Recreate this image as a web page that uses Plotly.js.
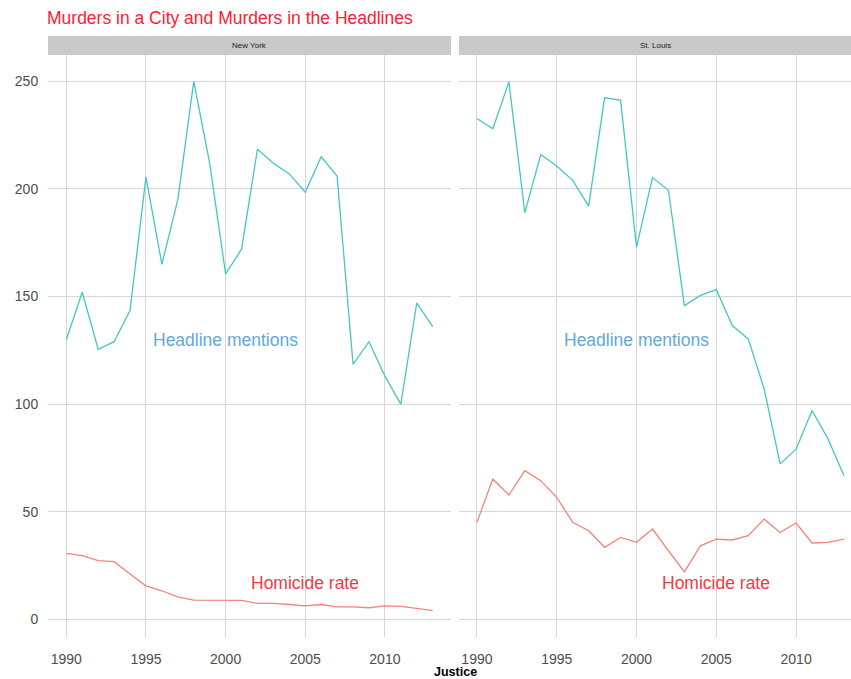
<!DOCTYPE html>
<html>
<head>
<meta charset="utf-8">
<script src="https://cdn.plot.ly/plotly-3.0.1.min.js"></script>
<style>html,body{margin:0;padding:0;background:#fff;}#chart{width:851px;height:679px;}</style>
</head>
<body>
<div id="chart"></div>
<script>
const years = [1990,1991,1992,1993,1994,1995,1996,1997,1998,1999,2000,2001,2002,2003,2004,2005,2006,2007,2008,2009,2010,2011,2012,2013];
const nyHeadlines = [130,152,125.5,129,143.5,205.5,165,195,250,212,160.5,172,218.5,212,207,198.5,215,206,118.5,129,113,100,147,136];
const nyHomicide = [30.6,29.5,27.2,26.7,21,15.5,13.2,10.4,8.8,8.8,8.5,8.7,7.3,7.3,6.8,6.2,6.8,5.7,5.7,5.3,6.2,5.9,5.0,4.0];
const slHeadlines = [232.8,228,249.8,189,216,210.7,204,192,242.4,241.3,173,205.3,199.4,145.8,150.5,153.2,136.5,130.3,107,72.2,79,97,83.8,66.7];
const slHomicide = [45,65.2,57.7,69,64.4,56.6,45,41.1,33.4,38,35.7,41.9,31.8,22,34.1,37.2,36.8,38.8,46.5,40.3,44.7,35.4,35.7,37.2];
const panels = ["New York", "St. Louis"];
const xTicks = [1990,1995,2000,2005,2010];
const yTicks = [0,50,100,150,200,250];
const labelHeadline = "Headline mentions";
const labelHomicide = "Homicide rate";
const chartTitle = "Murders in a City and Murders in the Headlines";
const xTitle = "Justice";

const W = 851, H = 679;
const px = v => v / W;
const py = v => 1 - v / H;
const teal = '#46c6c8', red = '#f4837c';
const FAM = 'Liberation Sans, Arial, sans-serif';

const traces = [
  {x: years, y: nyHeadlines, xaxis:'x', yaxis:'y', mode:'lines', line:{color:teal, width:1.3}, hoverinfo:'skip'},
  {x: years, y: nyHomicide, xaxis:'x', yaxis:'y', mode:'lines', line:{color:red, width:1.3}, hoverinfo:'skip'},
  {x: years, y: slHeadlines, xaxis:'x2', yaxis:'y2', mode:'lines', line:{color:teal, width:1.3}, hoverinfo:'skip'},
  {x: years, y: slHomicide, xaxis:'x2', yaxis:'y2', mode:'lines', line:{color:red, width:1.3}, hoverinfo:'skip'}
];

const yDom = [py(637), py(55)];
const yRange = [-8.3, 262.3];
const tickFont = {family: FAM, size:14, color:'#4d4d4d'};
const grid = '#d6d6d6';

const xBase = {
  tickvals: xTicks, ticktext: xTicks.map(String), showgrid:true, gridcolor:grid, gridwidth:1,
  zeroline:false, showline:false, ticks:'outside', ticklen:9, tickcolor:'rgba(0,0,0,0)',
  tickfont: tickFont, automargin:false, fixedrange:true
};
const yBase = {
  tickvals: yTicks, ticktext: yTicks.map(String), range: yRange, domain: yDom, showgrid:true,
  gridcolor:grid, gridwidth:1, zeroline:false, showline:false, ticks:'outside', ticklen:6,
  tickcolor:'rgba(0,0,0,0)', tickfont: tickFont, automargin:false, fixedrange:true
};

const annFont = (c) => ({family: FAM, size:17.5, color:c});
const layout = {
  width: W, height: H,
  margin: {l:0, r:0, t:0, b:0},
  paper_bgcolor:'#fff', plot_bgcolor:'rgba(0,0,0,0)',
  showlegend:false,
  title: {text: chartTitle, x: px(47), xanchor:'left', y: py(18), yanchor:'middle',
          font:{family: FAM, size:17.5, color:'#ff2030'}},
  xaxis: Object.assign({}, xBase, {domain:[px(48), px(451)], range:[1988.85, 2014.15], anchor:'y'}),
  xaxis2: Object.assign({}, xBase, {domain:[px(459), 1], range:[1988.875, 2013.44], anchor:'y2'}),
  yaxis: Object.assign({}, yBase, {anchor:'x'}),
  yaxis2: Object.assign({}, yBase, {anchor:'x2', showticklabels:false}),
  shapes: [
    {type:'rect', xref:'paper', yref:'paper', x0:px(48), x1:px(451), y0:py(55), y1:py(36), fillcolor:'#c9c9c9', line:{width:0}, layer:'below'},
    {type:'rect', xref:'paper', yref:'paper', x0:px(459), x1:1, y0:py(55), y1:py(36), fillcolor:'#c9c9c9', line:{width:0}, layer:'below'}
  ],
  annotations: [
    {xref:'paper', yref:'paper', x:(px(48)+px(451))/2, y:py(45.5), text:panels[0], showarrow:false,
     font:{family: FAM, size:8, color:'#222'}, xanchor:'center', yanchor:'middle'},
    {xref:'paper', yref:'paper', x:(px(459)+px(851))/2, y:py(45.5), text:panels[1], showarrow:false,
     font:{family: FAM, size:8, color:'#222'}, xanchor:'center', yanchor:'middle'},
    {xref:'x', yref:'y', x:2000, y:130, text:labelHeadline, showarrow:false, font:annFont('#62a8dc'), xanchor:'center', yanchor:'middle'},
    {xref:'x', yref:'y', x:2005, y:17, text:labelHomicide, showarrow:false, font:annFont('#ef3a44'), xanchor:'center', yanchor:'middle'},
    {xref:'x2', yref:'y2', x:2000, y:130, text:labelHeadline, showarrow:false, font:annFont('#62a8dc'), xanchor:'center', yanchor:'middle'},
    {xref:'x2', yref:'y2', x:2005, y:17, text:labelHomicide, showarrow:false, font:annFont('#ef3a44'), xanchor:'center', yanchor:'middle'},
    {xref:'paper', yref:'paper', x:px(455), y:py(672), text:'<b>'+xTitle+'</b>', showarrow:false,
     font:{family: FAM, size:12.5, color:'#000'}, xanchor:'center', yanchor:'middle'}
  ]
};

Plotly.newPlot('chart', traces, layout, {displayModeBar:false, staticPlot:true});
</script>
</body>
</html>
